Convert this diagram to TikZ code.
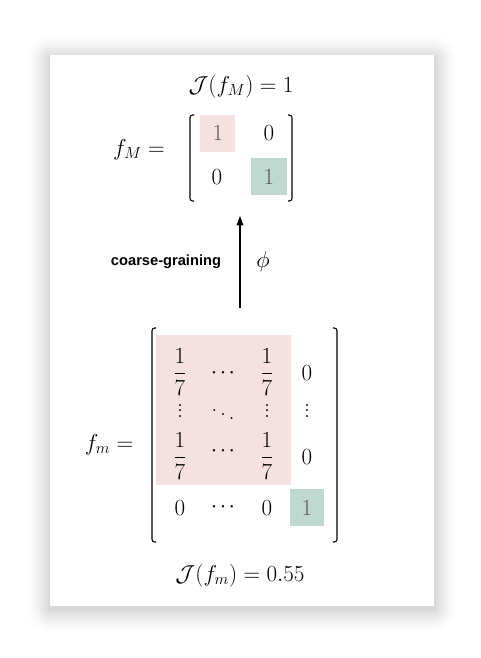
\documentclass[tikz,border=0pt]{standalone}
\usepackage{amsmath}
\usepackage{fontspec}
\newfontfamily\labelfont{Liberation Sans}
\usetikzlibrary{arrows.meta}
\definecolor{pinkcell}{HTML}{F5E1DF}
\definecolor{greencell}{HTML}{BFD8D0}
\newcommand{\vdotsbox}{\vbox{\baselineskip4.2pt\lineskiplimit0pt\hbox{.}\hbox{.}\hbox{.}}}
\newcommand{\hdotsrow}{\mathord{\cdot}\mkern2mu\mathord{\cdot}\mkern2mu\mathord{\cdot}}
\begin{document}
\begin{tikzpicture}[x=0.75pt, y=-0.75pt,
    entry/.style = {inner sep=0pt, font=\fontsize{18}{21}\selectfont},
    soft/.style = {entry, text=black!65},
    brack/.style = {line width=0.8pt, rounded corners=2pt}]
    \useasboundingbox (0,0) rectangle (480,658);
    % card and its shadow
    \foreach \s in {1,...,18}
        \fill[black, opacity={0.0009*(19-\s)}, rounded corners={1.2*\s pt}] ({50-1.5*\s},{58-1.5*\s}) rectangle ({434+1.5*\s},{609+1.5*\s});
    \fill[white] (50,55) rectangle (434,606);

    % macro state
    \node[entry, anchor=base] (JM) at (241,92) {$\mathcal{J}(f_M) = 1$};
    \node[entry, anchor=base] (fM) at (139,155) {$f_M =$};
    \fill[pinkcell] (200,115) rectangle (235,152);
    \fill[greencell] (251,158) rectangle (287,195);
    \node[soft] (M11) at (218,133) {$1$};
    \node[entry] (M12) at (269,133) {$0$};
    \node[entry] (M21) at (217,177) {$0$};
    \node[soft] (M22) at (269,177) {$1$};
    \draw[brack] (194,115) -- (190,115) -- (190,201) -- (194,201);
    \draw[brack] (288,115) -- (292,115) -- (292,201) -- (288,201);

    % coarse-graining
    \coordinate (tail) at (240,308);
    \coordinate (head) at (240,216);
    \draw[line width=0.8pt, -{Triangle[length=7pt, width=5pt]}] (tail) -- (head);
    \node[font=\labelfont\bfseries\fontsize{11}{13}\selectfont] (cg) at (166,262) {coarse-graining};
    \node[entry] (phi) at (263,262) {$\phi$};

    % micro state
    \fill[pinkcell] (156,335) rectangle (291,485);
    \fill[greencell] (290,489) rectangle (324,526);
    \node[entry, anchor=base] (fm) at (109,450) {$f_m =$};
    \node[entry] (m11) at (180,372) {$\dfrac{1}{7}$};
    \node[entry] (m12) at (223,373) {$\hdotsrow$};
    \node[entry] (m13) at (267,372) {$\dfrac{1}{7}$};
    \node[entry] (m14) at (307,373) {$0$};
    \node[entry] (m21) at (180,411) {\vdotsbox};
    \node[entry] (m22) at (223,411) {$\ddots$};
    \node[entry] (m23) at (267,411) {\vdotsbox};
    \node[entry] (m24) at (307,411) {\vdotsbox};
    \node[entry] (m31) at (180,456) {$\dfrac{1}{7}$};
    \node[entry] (m32) at (223,451) {$\hdotsrow$};
    \node[entry] (m33) at (267,456) {$\dfrac{1}{7}$};
    \node[entry] (m34) at (307,457) {$0$};
    \node[entry] (m41) at (180,508) {$0$};
    \node[entry] (m42) at (223,507) {$\hdotsrow$};
    \node[entry] (m43) at (267,508) {$0$};
    \node[soft] (m44) at (307,508) {$1$};
    \draw[brack] (156,328) -- (152,328) -- (152,542) -- (156,542);
    \draw[brack] (333,328) -- (337,328) -- (337,542) -- (333,542);
    \node[entry, anchor=base] (Jm) at (240,581) {$\mathcal{J}(f_m) = 0.55$};
\end{tikzpicture}
\end{document}
